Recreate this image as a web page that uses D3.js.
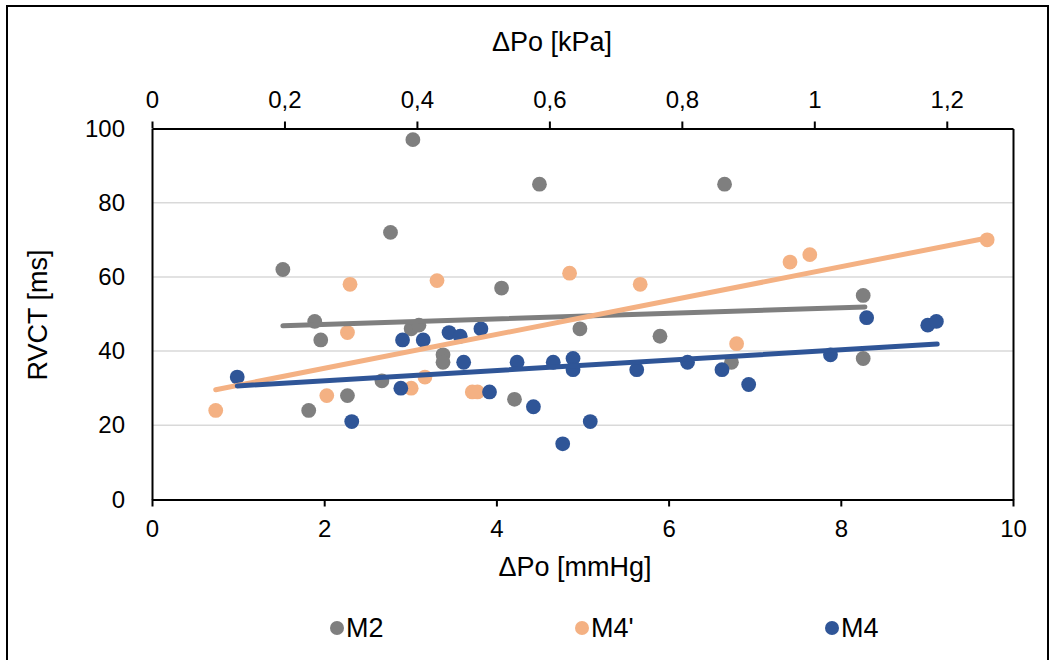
<!DOCTYPE html>
<html>
<head>
<meta charset="utf-8">
<script src="https://cdn.jsdelivr.net/npm/d3@7"></script>
<style>
  html, body { margin: 0; padding: 0; background: #fff; }
  svg { display: block; font-family: "Liberation Sans", Arial, sans-serif; }
</style>
</head>
<body>
<svg id="chart" width="1049" height="660"></svg>
<script>
// ---- data ----
const seriesNames = ["M2", "M4'", "M4"];
const seriesColors = ["#7F7F7F", "#F4B183", "#2F5597"];

const m2X = [1.52, 1.82, 1.89, 1.96, 2.27, 2.67, 2.77, 3.01, 3.03, 3.10, 3.38, 3.38, 4.06, 4.21, 4.50, 4.97, 5.90, 6.65, 6.73, 8.26, 8.26];
const m2Y = [62, 24, 48, 43, 28, 32, 72, 46, 97, 47, 39, 37, 57, 27, 85, 46, 44, 85, 37, 55, 38];

const m4pX = [0.74, 2.03, 2.27, 2.30, 3.01, 3.17, 3.31, 3.72, 3.78, 4.85, 5.67, 6.79, 7.41, 7.64, 9.70];
const m4pY = [24, 28, 45, 58, 30, 33, 59, 29, 29, 61, 58, 42, 64, 66, 70];

const m4X = [0.99, 2.32, 2.89, 2.91, 3.15, 3.45, 3.58, 3.62, 3.82, 3.92, 4.24, 4.43, 4.66, 4.77, 4.89, 4.89, 5.09, 5.63, 6.22, 6.62, 6.93, 7.88, 8.30, 9.01, 9.11];
const m4Y = [33, 21, 30, 43, 43, 45, 44, 37, 46, 29, 37, 25, 37, 15, 38, 35, 21, 35, 37, 35, 31, 39, 49, 47, 48];

// trendline end points (x, y)
const trendM2X = [1.52, 8.28];
const trendM2Y = [46.8, 51.9];
const trendM4pX = [0.74, 9.70];
const trendM4pY = [29.6, 70.5];
const trendM4X = [0.99, 9.12];
const trendM4Y = [30.6, 41.9];

const xTicks = [0, 2, 4, 6, 8, 10];
const yTicks = [0, 20, 40, 60, 80, 100];
const topTicks = [0, 0.2, 0.4, 0.6, 0.8, 1, 1.2];

const xTitle = "ΔPo [mmHg]";
const topTitle = "ΔPo [kPa]";
const yTitle = "RVCT [ms]";

// ---- layout ----
const svg = d3.select("#chart");
const pLeft = 152, pRight = 1013, pTop = 128.5, pBottom = 499.5;

const x = d3.scaleLinear().domain([0, 10]).range([pLeft, pRight]);
const xTop = d3.scaleLinear().domain([0, 1.3]).range([pLeft, pRight]);
const y = d3.scaleLinear().domain([0, 100]).range([pBottom, pTop]);

// outer border
svg.append("rect").attr("x", 7).attr("y", 6).attr("width", 1041).attr("height", 700)
  .attr("fill", "none").attr("stroke", "#000").attr("stroke-width", 2);

// gridlines
svg.append("g").selectAll("line").data(yTicks.filter(d => d > 0 && d < 100)).join("line")
  .attr("x1", pLeft).attr("x2", pRight)
  .attr("y1", d => y(d)).attr("y2", d => y(d))
  .attr("stroke", "#D9D9D9").attr("stroke-width", 1.5);

const fontSize = 24;
const titleSize = 27;

// bottom axis
const gx = svg.append("g").attr("transform", `translate(0,${pBottom})`)
  .call(d3.axisBottom(x).tickValues(xTicks).tickSize(7).tickSizeOuter(0).tickPadding(13).tickFormat(d3.format("d")));
// top axis
const gt = svg.append("g").attr("transform", `translate(0,${pTop})`)
  .call(d3.axisTop(xTop).tickValues(topTicks).tickSize(7).tickSizeOuter(0).tickPadding(14)
    .tickFormat(d => String(d).replace(".", ",")));
// left axis
const gy = svg.append("g").attr("transform", `translate(${pLeft},0)`)
  .call(d3.axisLeft(y).tickValues(yTicks).tickSize(0).tickSizeOuter(0).tickPadding(27).tickFormat(d3.format("d")));
// right axis line
const gr = svg.append("g").attr("transform", `translate(${pRight},0)`)
  .call(d3.axisRight(y).tickValues([]).tickSizeOuter(0));

[gx, gt, gy, gr].forEach(g => {
  g.select(".domain").attr("stroke", "#000").attr("stroke-width", 2);
  g.selectAll(".tick line").attr("stroke", "#000").attr("stroke-width", 2);
  g.selectAll(".tick text").attr("fill", "#000").style("font-size", fontSize + "px")
    .style("font-family", "'Liberation Sans', Arial, sans-serif");
});

// axis titles
svg.append("text").attr("x", 575).attr("y", 567).attr("dy", "0.35em").attr("text-anchor", "middle")
  .style("font-size", titleSize + "px").text(xTitle);
svg.append("text").attr("x", 552).attr("y", 42).attr("dy", "0.35em").attr("text-anchor", "middle")
  .style("font-size", titleSize + "px").text(topTitle);
svg.append("text").attr("transform", `translate(38,315) rotate(-90)`).attr("dy", "0.35em")
  .attr("text-anchor", "middle").style("font-size", titleSize + "px").text(yTitle);

// points
const series = [
  { name: seriesNames[0], color: seriesColors[0], xs: m2X, ys: m2Y, tx: trendM2X, ty: trendM2Y },
  { name: seriesNames[1], color: seriesColors[1], xs: m4pX, ys: m4pY, tx: trendM4pX, ty: trendM4pY },
  { name: seriesNames[2], color: seriesColors[2], xs: m4X, ys: m4Y, tx: trendM4X, ty: trendM4Y }
];

const plot = svg.append("g");
series.forEach(s => {
  plot.append("g").selectAll("circle").data(s.xs.map((v, i) => [v, s.ys[i]])).join("circle")
    .attr("cx", d => x(d[0])).attr("cy", d => y(d[1])).attr("r", 7.4)
    .attr("fill", s.color);
});
const line = d3.line().x(d => x(d[0])).y(d => y(d[1]));
series.forEach(s => {
  plot.append("path").datum(s.tx.map((v, i) => [v, s.ty[i]]))
    .attr("d", line).attr("fill", "none").attr("stroke", s.color)
    .attr("stroke-width", 5).attr("stroke-linecap", "round");
});

// legend
const legendX = [337, 582, 832];
const lg = svg.append("g");
series.forEach((s, i) => {
  lg.append("circle").attr("cx", legendX[i]).attr("cy", 628).attr("r", 7).attr("fill", s.color);
  lg.append("text").attr("x", legendX[i] + 9).attr("y", 628).attr("dy", "0.35em")
    .style("font-size", titleSize + "px").text(s.name);
});
</script>
</body>
</html>
